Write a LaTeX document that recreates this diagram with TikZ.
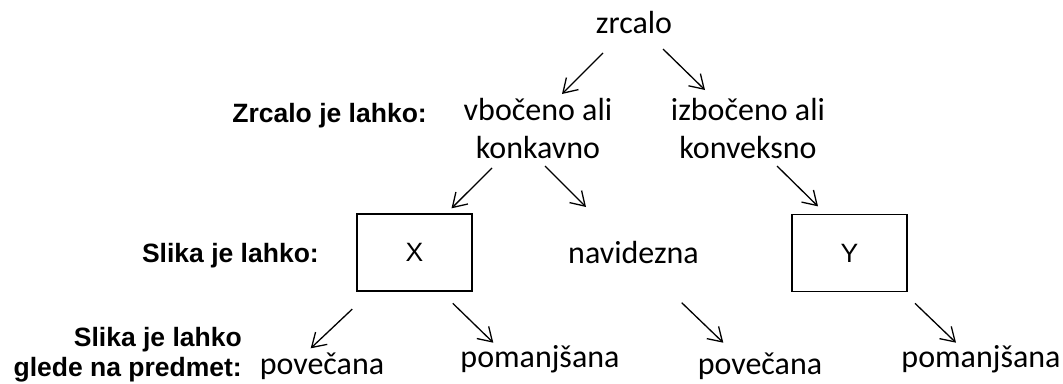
\documentclass[tikz,border=0pt]{standalone}
\usepackage{fontspec}
\setmainfont{Carlito}
\newfontfamily\labelfont{Liberation Sans}
\usetikzlibrary{arrows.meta}
\tikzset{
  word/.style={inner sep=0pt, anchor=base, align=center,
    font=\fontsize{32}{38}\selectfont},
  rowlabel/.style={inner sep=0pt, anchor=base east, align=right,
    font=\labelfont\bfseries\fontsize{26.5}{29.5}\selectfont},
  kindbox/.style={draw, line width=1.3pt, inner sep=0pt,
    minimum width=115pt, minimum height=77pt,
    font=\labelfont\fontsize{26.5}{30}\selectfont},
  arr/.style={line width=1.3pt, -{Straight Barb[length=13.5pt,width=17pt]}}
}
\begin{document}
\begin{tikzpicture}[x=1pt,y=-1pt]
\useasboundingbox (0,0) rectangle (1063,383);

% row labels (multi-line nodes sit on their last line)
\node[rowlabel] (l1) at (427,122) {Zrcalo je lahko:};
\node[rowlabel] (l2) at (319,262.5) {Slika je lahko:};
\node[rowlabel] (l3) at (242,376) {Slika je lahko\\glede na predmet:};

% tree
\node[word] (zrc) at (634,33) {zrcalo};
\node[word] (vb)  at (538,158) {vbočeno ali\\konkavno};
\node[word] (izb) at (748,158) {izbočeno ali\\konveksno};
\node[kindbox] (bx) at (414.5,252.5) {X};
\node[word] (nav) at (633.5,263) {navidezna};
\node[kindbox] (by) at (849.5,253) {Y};
\node[word] (pov1) at (322,374) {povečana};
\node[word] (pom1) at (540,367) {pomanjšana};
\node[word] (pov2) at (760,374) {povečana};
\node[word] (pom2) at (981,367) {pomanjšana};

% connectors
\draw[arr] ([shift={(-31,20)}]zrc.base) -- ([shift={(24,-64)}]vb.base);
\draw[arr] ([shift={(29,16)}]zrc.base) -- ([shift={(-43,-68)}]izb.base);
\draw[arr] ([shift={(-46,10)}]vb.base) -- ([shift={(37,-5)}]bx.north);
\draw[arr] ([shift={(7,8)}]vb.base) -- ([shift={(-47.5,-56)}]nav.base);
\draw[arr] ([shift={(29,8)}]izb.base) -- ([shift={(-31.5,-7.5)}]by.north);
\draw[arr] ([shift={(-62.3,17.5)}]bx.south) -- ([shift={(-11.3,-25.7)}]pov1.base);
\draw[arr] ([shift={(38.3,11.7)}]bx.south) -- ([shift={(-46.7,-24.3)}]pom1.base);
\draw[arr] ([shift={(48.2,39.7)}]nav.base) -- ([shift={(-36.7,-31.3)}]pov2.base);
\draw[arr] ([shift={(65.5,11.2)}]by.south) -- ([shift={(-25,-24.3)}]pom2.base);
\end{tikzpicture}
\end{document}
